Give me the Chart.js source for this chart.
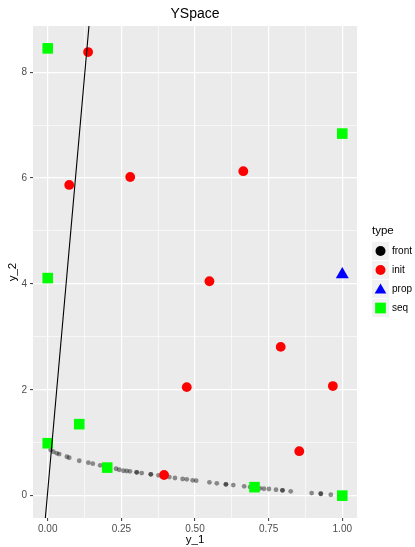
<!DOCTYPE html>
<html>
<head>
<meta charset="utf-8">
<script src="https://cdn.jsdelivr.net/npm/chart.js@4.4.1/dist/chart.umd.min.js"></script>
<style>
html,body{margin:0;padding:0;background:#fff;}
#wrap{width:415px;height:547px;position:relative;}
canvas{display:block;}
</style>
</head>
<body>
<div id="wrap"><canvas id="c" width="415" height="547"></canvas></div>
<script>
// ---------- data ----------
const chartTitle = 'YSpace';
const xTitle = 'y_1';
const yTitle = 'y_2';
const legendTitle = 'type';
const categories = ['front', 'init', 'prop', 'seq'];

const frontX = [0.010, 0.019, 0.031, 0.039, 0.065, 0.073, 0.107, 0.138, 0.153, 0.178,
  0.232, 0.243, 0.257, 0.268, 0.279, 0.302, 0.302, 0.319, 0.350, 0.350, 0.376, 0.413, 0.432,
  0.458, 0.472, 0.492, 0.504, 0.549, 0.574, 0.605, 0.605, 0.630, 0.667, 0.687,
  0.721, 0.734, 0.751, 0.775, 0.797, 0.797, 0.825, 0.896, 0.927, 0.927, 0.961];
const frontY = [0.862, 0.829, 0.799, 0.786, 0.735, 0.716, 0.659, 0.622, 0.603, 0.572,
  0.508, 0.489, 0.470, 0.465, 0.459, 0.440, 0.440, 0.427, 0.402, 0.402, 0.384, 0.351, 0.333,
  0.314, 0.308, 0.289, 0.282, 0.251, 0.232, 0.213, 0.213, 0.200, 0.176, 0.162,
  0.138, 0.130, 0.125, 0.111, 0.100, 0.100, 0.081, 0.049, 0.036, 0.036, 0.017];

const initX = [0.137, 0.073, 0.280, 0.664, 0.549, 0.791, 0.472, 0.968, 0.854, 0.395];
const initY = [8.38, 5.87, 6.02, 6.13, 4.05, 2.81, 2.05, 2.07, 0.84, 0.39];

const propX = [1.0];
const propY = [4.18];

const seqX = [0.0, 0.0, 1.0, 0.0, 0.107, 0.202, 0.702, 1.0];
const seqY = [8.45, 4.11, 6.84, 0.99, 1.35, 0.53, 0.16, 0.0];

const lineX = [-0.0081, 0.140];
const lineY = [-0.4225, 8.8725];

const xTickVals = [0, 0.25, 0.5, 0.75, 1];
const xTickLabels = ['0.00', '0.25', '0.50', '0.75', '1.00'];
const xMinorVals = [0.125, 0.375, 0.625, 0.875];
const yTickVals = [0, 2, 4, 6, 8];
const yTickLabels = ['0', '2', '4', '6', '8'];
const yMinorVals = [1, 3, 5, 7];
const xLimits = [-0.05, 1.05];
const yLimits = [-0.4225, 8.8725];

// ---------- rendering ----------
const FONT = '"Liberation Sans", Arial, Helvetica, sans-serif';
const pts = (xs, ys) => xs.map((x, i) => ({x: x, y: ys[i]}));

function makeKey(drawSym) {
  const c = document.createElement('canvas');
  c.width = 24; c.height = 18;
  const g = c.getContext('2d');
  g.fillStyle = '#f2f2f2';
  g.fillRect(0, 0, 17, 18);
  drawSym(g, 8.5, 9);
  return c;
}
const keyImgs = [
  makeKey((g, x, y) => { g.fillStyle = '#000'; g.beginPath(); g.arc(x, y, 5, 0, Math.PI * 2); g.fill(); }),
  makeKey((g, x, y) => { g.fillStyle = '#ff0000'; g.beginPath(); g.arc(x, y, 5, 0, Math.PI * 2); g.fill(); }),
  makeKey((g, x, y) => { g.fillStyle = '#0000ff'; g.beginPath(); g.moveTo(x, y - 5.6); g.lineTo(x + 5.85, y + 4.4); g.lineTo(x - 5.85, y + 4.4); g.closePath(); g.fill(); }),
  makeKey((g, x, y) => { g.fillStyle = '#00ff00'; g.fillRect(x - 5.35, y - 5.35, 10.7, 10.7); })
];

const isIn = (arr, v) => arr.some(a => Math.abs(a - v) < 1e-9);

const bgPlugin = {
  id: 'bg',
  beforeDraw(chart) {
    const {ctx, chartArea: a} = chart;
    ctx.save();
    ctx.fillStyle = '#ffffff';
    ctx.fillRect(0, 0, chart.width, chart.height);
    ctx.fillStyle = '#ebebeb';
    ctx.fillRect(a.left, a.top, a.right - a.left, a.bottom - a.top);
    ctx.restore();
  }
};

new Chart(document.getElementById('c'), {
  type: 'scatter',
  data: {
    datasets: [
      {label: 'line', type: 'scatter', showLine: true, data: pts(lineX, lineY), borderColor: '#000000', borderWidth: 1.1, pointRadius: 0, order: 0},
      {label: categories[0], data: pts(frontX, frontY), pointStyle: 'circle', pointRadius: 2.4, backgroundColor: 'rgba(0,0,0,0.42)', borderWidth: 0, order: 4},
      {label: categories[1], data: pts(initX, initY), pointStyle: 'circle', pointRadius: 4.9, backgroundColor: '#ff0000', borderWidth: 0, order: 3},
      {label: categories[2], data: pts(propX, propY), pointStyle: 'triangle', pointRadius: 7.5, backgroundColor: '#0000ff', borderWidth: 0, order: 2},
      {label: categories[3], data: pts(seqX, seqY), pointStyle: 'rect', pointRadius: 7.5, backgroundColor: '#00ff00', borderWidth: 0, order: 1}
    ]
  },
  options: {
    responsive: false,
    animation: false,
    events: [],
    layout: {padding: 0},
    scales: {
      x: {
        type: 'linear', position: 'bottom', min: xLimits[0], max: xLimits[1],
        afterBuildTicks: s => { s.ticks = xTickVals.concat(xMinorVals).sort((a, b) => a - b).map(v => ({value: v})); },
        ticks: {
          autoSkip: false, maxRotation: 0, padding: 2, color: '#4d4d4d',
          font: {family: FONT, size: 10},
          callback: v => { const i = xTickVals.findIndex(t => Math.abs(t - v) < 1e-9); return i < 0 ? '' : xTickLabels[i]; }
        },
        grid: {
          color: c => '#ffffff',
          lineWidth: c => isIn(xTickVals, c.tick.value) ? 1.2 : 0.6,
          tickColor: c => isIn(xTickVals, c.tick.value) ? '#333333' : 'rgba(0,0,0,0)',
          tickLength: 3, tickWidth: 1
        },
        border: {display: false},
        title: {display: true, text: xTitle, color: '#000', font: {family: FONT, size: 11.5}, padding: {top: 0, bottom: 0}},
        afterFit: s => { s.height = 29; }
      },
      y: {
        type: 'linear', position: 'left', min: yLimits[0], max: yLimits[1],
        afterBuildTicks: s => { s.ticks = yTickVals.concat(yMinorVals).sort((a, b) => a - b).map(v => ({value: v})); },
        ticks: {
          autoSkip: false, padding: 3, color: '#4d4d4d',
          font: {family: FONT, size: 10},
          callback: v => { const i = yTickVals.findIndex(t => Math.abs(t - v) < 1e-9); return i < 0 ? '' : yTickLabels[i]; }
        },
        grid: {
          color: c => '#ffffff',
          lineWidth: c => isIn(yTickVals, c.tick.value) ? 1.2 : 0.6,
          tickColor: c => isIn(yTickVals, c.tick.value) ? '#333333' : 'rgba(0,0,0,0)',
          tickLength: 3, tickWidth: 1
        },
        border: {display: false},
        title: {display: true, text: yTitle, color: '#000', font: {family: FONT, size: 11.5}, padding: {top: 5.6, bottom: 0}},
        afterFit: s => { s.width = 33; }
      },
      yPad: {
        type: 'linear', position: 'right', display: true,
        grid: {display: false, drawTicks: false},
        border: {display: false},
        ticks: {display: false},
        afterFit: s => { s.width = 15; }
      }
    },
    plugins: {
      tooltip: {enabled: false},
      title: {
        display: true, text: chartTitle, color: '#000', fullSize: false,
        font: {family: FONT, size: 14, weight: 'normal', lineHeight: 1.2},
        padding: {top: 6, bottom: 3.2}
      },
      legend: {
        display: true, position: 'right', align: 'start', maxWidth: 43,
        title: {display: true, text: legendTitle, position: 'start', color: '#000',
          font: {family: FONT, size: 11.5, lineHeight: 1}, padding: {top: 225.5, bottom: 0}},
        labels: {
          usePointStyle: true, pointStyleWidth: 6, padding: 9, color: '#000',
          font: {family: FONT, size: 10},
          generateLabels: chart => categories.map((name, i) => ({
            text: name, pointStyle: keyImgs[i], datasetIndex: i + 1, hidden: false,
            fillStyle: 'rgba(0,0,0,0)', strokeStyle: 'rgba(0,0,0,0)', lineWidth: 0, fontColor: '#000'
          }))
        }
      }
    }
  },
  plugins: [bgPlugin]
});
</script>
</body>
</html>
